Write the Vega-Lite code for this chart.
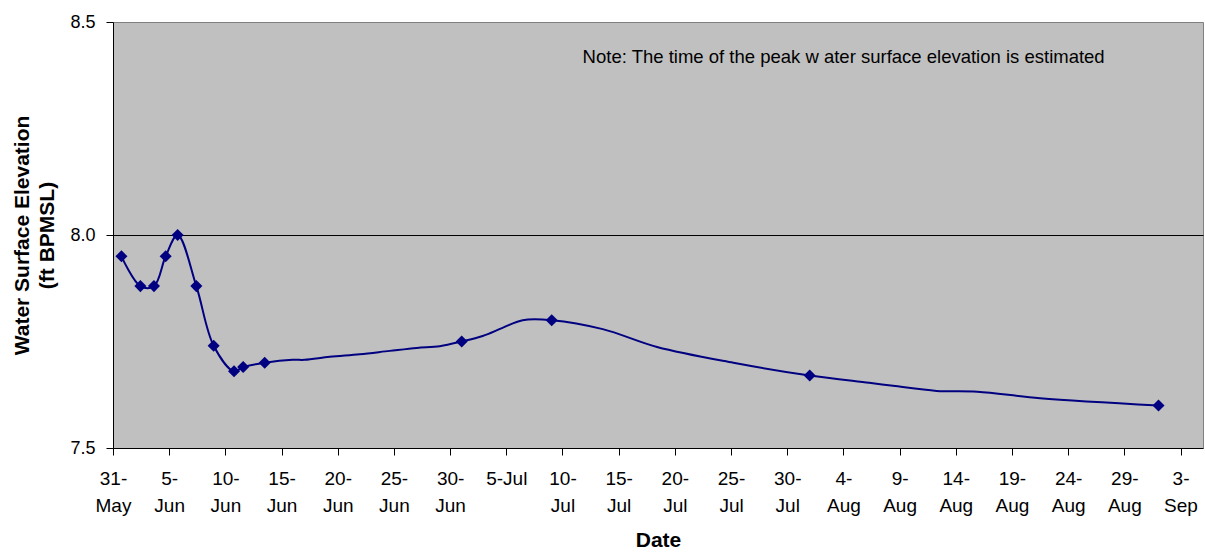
{
  "$schema": "https://vega.github.io/schema/vega-lite/v6.json",
  "width": 1090,
  "height": 426,
  "autosize": "none",
  "padding": {"left": 113, "top": 22, "right": 2, "bottom": 104},
  "background": "white",
  "config": {
    "font": "Liberation Sans",
    "view": {"fill": "#C0C0C0", "stroke": "#808080", "strokeWidth": 1}
  },
  "datasets": {
    "line": [
      {"date": "2008-05-31T18:00", "value": 7.95},
      {"date": "2008-06-02T10:30", "value": 7.88},
      {"date": "2008-06-03T15:30", "value": 7.88},
      {"date": "2008-06-04T16:30", "value": 7.95},
      {"date": "2008-06-05T18:00", "value": 8.0},
      {"date": "2008-06-07T10:00", "value": 7.88},
      {"date": "2008-06-08T23:00", "value": 7.74},
      {"date": "2008-06-10T18:30", "value": 7.68},
      {"date": "2008-06-11T14:00", "value": 7.69},
      {"date": "2008-06-13T12:00", "value": 7.70},
      {"date": "2008-06-15T23:30", "value": 7.707},
      {"date": "2008-06-17T01:30", "value": 7.707},
      {"date": "2008-06-19T07:00", "value": 7.714},
      {"date": "2008-06-21T23:00", "value": 7.72},
      {"date": "2008-06-24T15:00", "value": 7.728},
      {"date": "2008-06-27T01:00", "value": 7.735},
      {"date": "2008-06-29T02:00", "value": 7.739},
      {"date": "2008-07-01T00:45", "value": 7.75},
      {"date": "2008-07-02T21:30", "value": 7.763},
      {"date": "2008-07-04T16:00", "value": 7.782},
      {"date": "2008-07-06T11:00", "value": 7.80},
      {"date": "2008-07-09T01:00", "value": 7.80},
      {"date": "2008-07-13T14:00", "value": 7.779},
      {"date": "2008-07-18T10:00", "value": 7.737},
      {"date": "2008-07-25T05:00", "value": 7.70},
      {"date": "2008-08-01T00:00", "value": 7.67},
      {"date": "2008-08-06T07:00", "value": 7.653},
      {"date": "2008-08-08T10:00", "value": 7.646},
      {"date": "2008-08-12T07:00", "value": 7.634},
      {"date": "2008-08-15T22:00", "value": 7.632},
      {"date": "2008-08-21T12:00", "value": 7.617},
      {"date": "2008-09-01T01:00", "value": 7.60}
    ],
    "obs": [
      {"date": "2008-05-31T18:00", "value": 7.95},
      {"date": "2008-06-02T10:30", "value": 7.88},
      {"date": "2008-06-03T15:30", "value": 7.88},
      {"date": "2008-06-04T16:30", "value": 7.95},
      {"date": "2008-06-05T18:00", "value": 8.0},
      {"date": "2008-06-07T10:00", "value": 7.88},
      {"date": "2008-06-08T23:00", "value": 7.74},
      {"date": "2008-06-10T18:30", "value": 7.68},
      {"date": "2008-06-11T14:00", "value": 7.69},
      {"date": "2008-06-13T12:00", "value": 7.70},
      {"date": "2008-07-01T00:45", "value": 7.75},
      {"date": "2008-07-09T01:00", "value": 7.80},
      {"date": "2008-08-01T00:00", "value": 7.67},
      {"date": "2008-09-01T01:00", "value": 7.60}
    ],
    "note": [
      {"date": "2008-07-11T19:00", "value": 8.418, "text": "Note: The time of the peak w ater surface elevation is estimated"}
    ]
  },
  "encoding": {
    "x": {
      "field": "date",
      "type": "temporal",
      "scale": {
        "domain": [{"year": 2008, "month": "may", "date": 31}, {"year": 2008, "month": "sep", "date": 5}],
        "nice": false
      },
      "axis": {
        "title": "Date",
        "titleFontSize": 21,
        "titleFontWeight": "bold",
        "titleColor": "black",
        "titlePadding": 14,
        "values": [
          {"year": 2008, "month": "may", "date": 31},
          {"year": 2008, "month": "jun", "date": 5},
          {"year": 2008, "month": "jun", "date": 10},
          {"year": 2008, "month": "jun", "date": 15},
          {"year": 2008, "month": "jun", "date": 20},
          {"year": 2008, "month": "jun", "date": 25},
          {"year": 2008, "month": "jun", "date": 30},
          {"year": 2008, "month": "jul", "date": 5},
          {"year": 2008, "month": "jul", "date": 10},
          {"year": 2008, "month": "jul", "date": 15},
          {"year": 2008, "month": "jul", "date": 20},
          {"year": 2008, "month": "jul", "date": 25},
          {"year": 2008, "month": "jul", "date": 30},
          {"year": 2008, "month": "aug", "date": 4},
          {"year": 2008, "month": "aug", "date": 9},
          {"year": 2008, "month": "aug", "date": 14},
          {"year": 2008, "month": "aug", "date": 19},
          {"year": 2008, "month": "aug", "date": 24},
          {"year": 2008, "month": "aug", "date": 29},
          {"year": 2008, "month": "sep", "date": 3}
        ],
        "labelExpr": "timeFormat(datum.value, '%-d-%b') == '5-Jul' ? '5-Jul' : [timeFormat(datum.value, '%-d') + '-', timeFormat(datum.value, '%b')]",
        "labelFontSize": 19,
        "labelColor": "black",
        "labelLineHeight": 27,
        "labelPadding": 14,
        "labelOverlap": false,
        "labelFlush": false,
        "grid": false,
        "domainColor": "black",
        "tickColor": "black",
        "tickSize": 7
      }
    },
    "y": {
      "field": "value",
      "type": "quantitative",
      "scale": {"domain": [7.5, 8.5], "nice": false, "zero": false},
      "axis": {
        "title": ["Water Surface Elevation", "(ft BPMSL)"],
        "titleFontSize": 21,
        "titleFontWeight": "bold",
        "titleColor": "black",
        "titleLineHeight": 25,
        "titlePadding": 12,
        "values": [7.5, 8.0, 8.5],
        "format": ".1f",
        "labelFontSize": 18,
        "labelColor": "black",
        "labelPadding": 11,
        "grid": true,
        "gridColor": "black",
        "gridOpacity": {"condition": {"test": "datum.value === 8", "value": 1}, "value": 0},
        "domainColor": "black",
        "tickColor": "black",
        "tickSize": 7
      }
    }
  },
  "layer": [
    {
      "data": {"name": "line"},
      "mark": {"type": "line", "color": "#000080", "strokeWidth": 2, "interpolate": "catmull-rom"}
    },
    {
      "data": {"name": "obs"},
      "mark": {"type": "point", "shape": "diamond", "filled": true, "color": "#000080", "opacity": 1, "size": 145}
    },
    {
      "data": {"name": "note"},
      "mark": {"type": "text", "align": "left", "baseline": "middle", "fontSize": 18.5, "color": "black"},
      "encoding": {"text": {"field": "text"}}
    }
  ]
}
